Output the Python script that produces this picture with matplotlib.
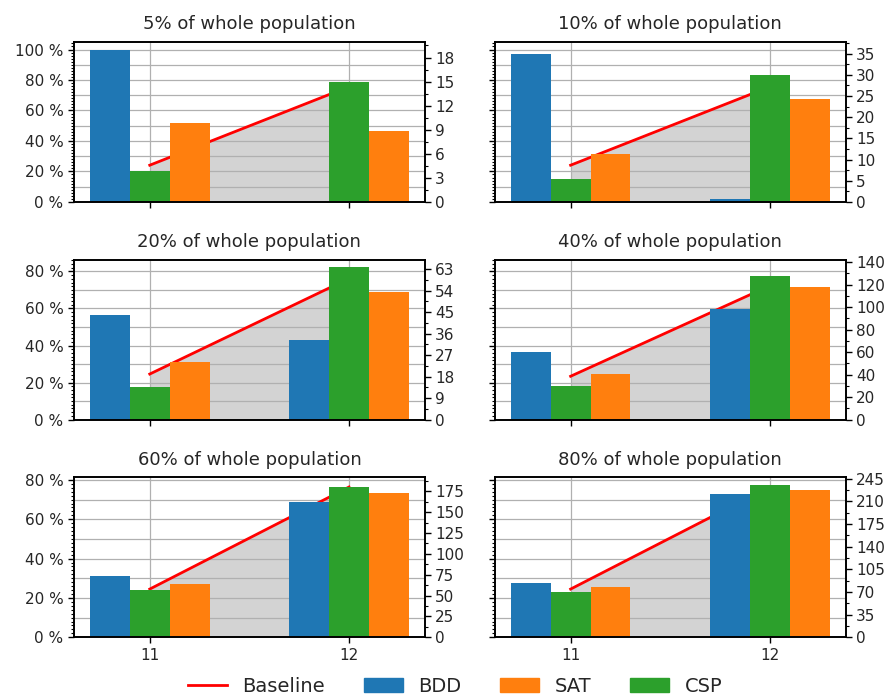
import numpy as np
import matplotlib
matplotlib.use("Agg")
import matplotlib.pyplot as plt
from matplotlib.ticker import MultipleLocator, AutoMinorLocator, FuncFormatter
from matplotlib.lines import Line2D
from matplotlib.patches import Patch

# x positions (problem size)
sizes = [11, 12]

# subset labels
subsets = ["5%", "10%", "20%", "40%", "60%", "80%"]

# share of solved instances (%) per solver, one pair per subset: [size 11, size 12]
bdd = [[100.0, 0.0], [96.9, 2.0], [56.6, 43.1], [36.3, 59.7], [31.4, 69.0], [27.7, 72.9]]
csp = [[20.4, 78.6], [15.3, 83.2], [17.4, 82.3], [18.0, 77.8], [24.1, 76.3], [23.1, 77.5]]
sat = [[52.1, 46.8], [31.7, 67.2], [30.9, 69.0], [24.6, 71.4], [27.3, 73.2], [25.7, 74.9]]
baseline = [[24.1, 75.6], [24.1, 75.6], [24.6, 76.2], [23.4, 72.3], [24.5, 76.4], [24.5, 76.5]]

# number of instances in each subset (scale of the right-hand axis)
n_instances = [19, 36, 77.5, 164.6, 235.7, 304]
count_steps = [3, 5, 9, 20, 25, 35]

BLUE, ORANGE, GREEN = "#1f77b4", "#ff7f0e", "#2ca02c"
TEXT = "#262626"
width = 0.2

plt.rcParams["text.color"] = TEXT
plt.rcParams["xtick.labelcolor"] = TEXT
plt.rcParams["ytick.labelcolor"] = TEXT

fig, axes = plt.subplots(3, 2, figsize=(8.92, 6.98), dpi=100, sharex=True, sharey="row")
fig.subplots_adjust(left=0.083, right=0.948, top=0.940, bottom=0.087, hspace=0.36, wspace=0.2)

x = np.array(sizes, dtype=float)
pct_fmt = FuncFormatter(lambda v, _: f"{v:.0f} %")

for i, ax in enumerate(axes.flat):
    ax.set_axisbelow(True)
    ax.fill_between(x, 0, baseline[i], color="#d3d3d3", zorder=0.2, linewidth=0)
    ax.plot(x, baseline[i], color="red", lw=2, zorder=0.8)
    ax.bar(x - width, bdd[i], width, color=BLUE, zorder=1)
    ax.bar(x, csp[i], width, color=GREEN, zorder=1)
    ax.bar(x + width, sat[i], width, color=ORANGE, zorder=1)
    ax.set_title(f"{subsets[i]} of whole population", fontsize=13, pad=9)
    ax.set_xticks(sizes)
    ax.grid(axis="x", color="#b0b0b0", lw=0.9)
    ax.yaxis.set_major_locator(MultipleLocator(20))
    ax.yaxis.set_minor_locator(MultipleLocator(2))
    ax.yaxis.set_major_formatter(pct_fmt)
    ax.tick_params(labelsize=11, length=4, width=1)
    ax.tick_params(axis="y", which="minor", length=2.5, width=0.8)
    for s in ax.spines.values():
        s.set_linewidth(1.2)

for i, ax in enumerate(axes.flat):
    top = ax.get_ylim()[1]
    for g in np.arange(10, top, 10):
        ax.axhline(g, color="#b0b0b0", lw=0.9, zorder=0.5)
    ax2 = ax.twinx()
    ax2.set_ylim(0, top * n_instances[i] / 100.0)
    ax2.yaxis.set_major_locator(MultipleLocator(count_steps[i]))
    ax2.yaxis.set_minor_locator(AutoMinorLocator(2))
    ax2.tick_params(labelsize=11, length=4, width=1)
    ax2.tick_params(axis="y", which="minor", length=2.5, width=0.8)
    for s in ax2.spines.values():
        s.set_linewidth(1.2)

handles = [
    Line2D([], [], color="red", lw=2),
    Patch(color=BLUE),
    Patch(color=ORANGE),
    Patch(color=GREEN),
]
fig.legend(handles, ["Baseline", "BDD", "SAT", "CSP"], loc="center",
           bbox_to_anchor=(0.51, 0.017), ncol=4, frameon=False, fontsize=14)

fig.savefig("out.png", dpi=100)
